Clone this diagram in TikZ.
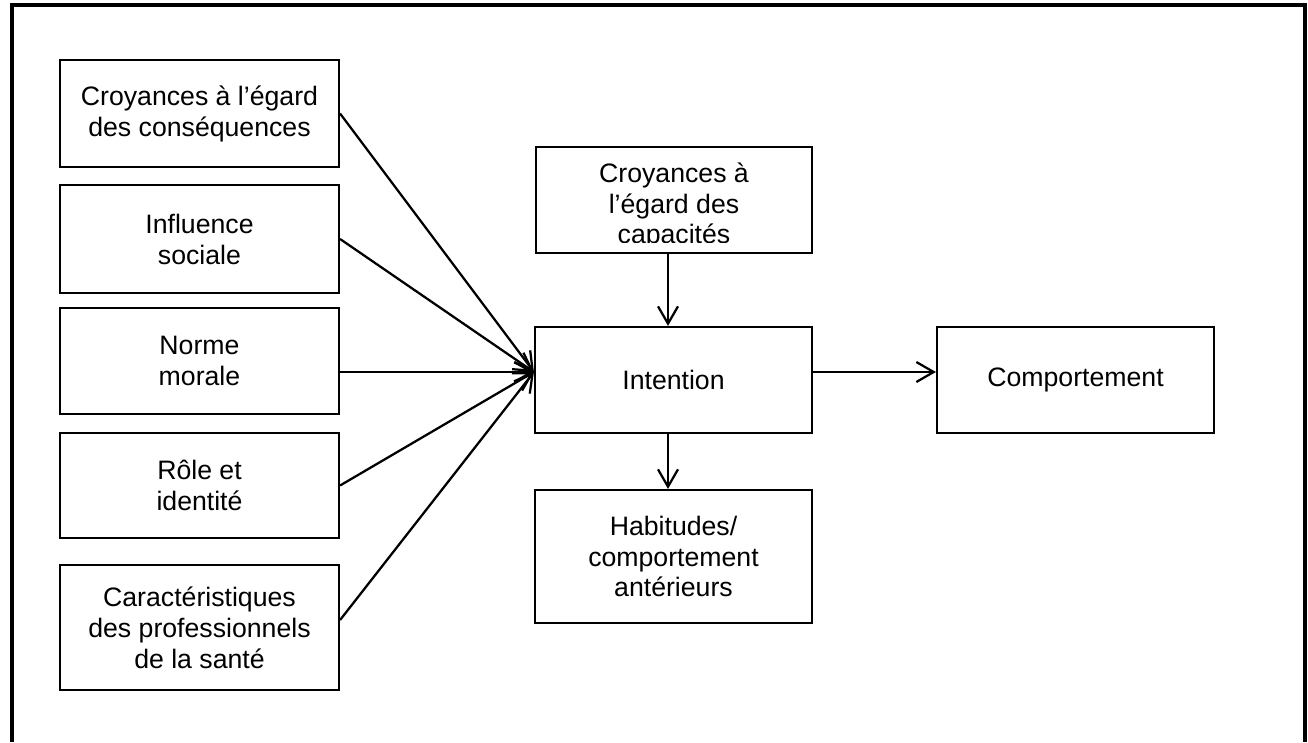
\documentclass[tikz,border=0pt]{standalone}
\usepackage{fontspec}
\setmainfont{Liberation Sans}
\usetikzlibrary{arrows.meta,calc}
\begin{document}
\begin{tikzpicture}[x=0.75pt,y=-0.75pt,
  box/.style={draw,line width=1.6pt,rectangle,inner sep=0pt,align=center,
    font=\fontsize{20pt}{23.2pt}\selectfont},
  boxtext/.style={inner sep=0pt,align=center,font=\fontsize{20pt}{23.2pt}\selectfont},
  conn/.style={line width=1.7pt,-{Straight Barb[length=13pt,width=15pt]}},
  frameline/.style={line width=3pt}
]
\useasboundingbox (0,0) rectangle (1308,742);
% outer frame (bottom edge lies below the picture)
\draw[frameline] (12,742) -- (12,5) -- (1305,5) -- (1305,742);

% left column
\node[box,minimum width=209.25pt,minimum height=80.25pt] (b1) at (199.5,113.5) {Croyances à l’égard\\des conséquences};
\node[box,minimum width=209.25pt,minimum height=81pt] (b2) at (199.5,239) {Influence\\sociale};
\node[box,minimum width=209.25pt,minimum height=79.5pt] (b3) at (199.5,361) {Norme\\morale};
\node[box,minimum width=209.25pt,minimum height=78.75pt] (b4) at (199.5,485.5) {Rôle et\\identité};
\node[box,minimum width=209.25pt,minimum height=93.75pt] (b5) at (199.5,627.5) {Caractéristiques\\des professionnels\\de la santé};

% middle column
\node[box,minimum width=207pt,minimum height=79.5pt] (cap) at (674,200) {};
\begin{scope}
  \clip (536,147) rectangle (812,242);
  \node[boxtext] (captext) at (674,206) {Croyances à\\l’égard des\\capacités};
\end{scope}
\node[box,minimum width=207.75pt,minimum height=79.5pt] (int) at (673.5,380) {Intention};
\node[box,minimum width=207.75pt,minimum height=99.75pt] (hab) at (673.5,556.5) {Habitudes/\\comportement\\antérieurs};

% right
\node[box,minimum width=207.75pt,minimum height=79.5pt] (comp) at (1075.5,380) {Comportement};

\coordinate (conv) at ($(int.west)+(0,-8)$);

\draw[conn] (b1.east) -- (conv);
\draw[conn] (b2.east) -- (conv);
\draw[conn] (b3.east |- conv) -- (conv);
\draw[conn] (b4.east) -- (conv);
\draw[conn] ($(b5.east)+(0,-7.5)$) -- (conv);
\draw[conn] (int.east |- conv) -- (comp.west |- conv);
\draw[conn] ($(cap.south)+(-6,0)$) -- ($(int.north)+(-5.5,0)$);
\draw[conn] ($(int.south)+(-5.5,0)$) -- ($(hab.north)+(-5.5,0)$);
\end{tikzpicture}
\end{document}
